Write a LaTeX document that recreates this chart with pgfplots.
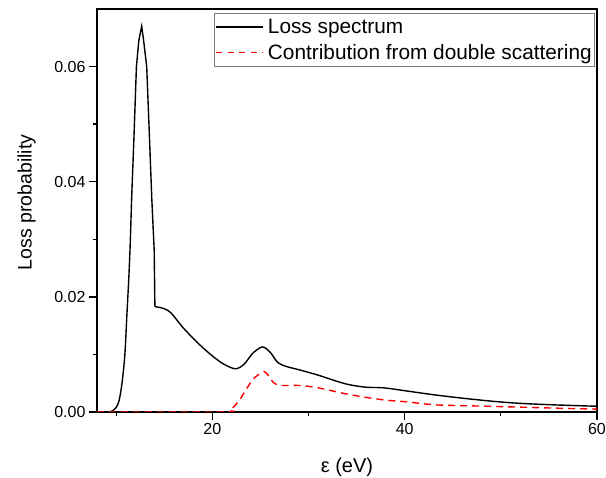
\documentclass[border=0pt]{standalone}
\usepackage{pgfplots}
\pgfplotsset{compat=1.18}
\usepackage{fontspec}
\setmainfont{Liberation Sans}
\begin{document}
\begin{tikzpicture}
\path[use as bounding box] (-97pt,-66pt) rectangle (509pt,412pt);
\begin{axis}[
  scale only axis,
  width=500pt, height=403pt,
  xmin=8, xmax=60, ymin=0, ymax=0.07,
  axis line style={line width=1.3pt},
  xtick pos=left, ytick pos=left,
  tick align=outside,
  xtick={20,40,60}, minor xtick={10,30,50},
  ytick={0,0.02,0.04,0.06}, minor ytick={0.01,0.03,0.05},
  major tick length=8pt, minor tick length=4pt,
  every tick/.style={black, line width=1.3pt},
  /pgf/number format/assume math mode=true,
  yticklabel style={/pgf/number format/fixed, /pgf/number format/precision=2, /pgf/number format/fixed zerofill, font=\fontsize{16}{19}\selectfont},
  xticklabel style={font=\fontsize{16}{19}\selectfont},
  scaled y ticks=false,
  xlabel={ε (eV)},
  ylabel={Loss probability},
  xlabel style={font=\fontsize{20}{24}\selectfont, at={(axis description cs:0.5,-0.151)}, anchor=base},
  ylabel style={font=\fontsize{19.5}{24}\selectfont, at={(axis description cs:-0.1306,0.52)}, anchor=base},
  legend style={at={(axis description cs:1,1)}, anchor=north east, xshift=-2pt, yshift=-4pt,
    draw=gray, line width=0.6pt, inner xsep=1pt, inner ysep=1.5pt,
    font=\fontsize{20.8}{24}\selectfont, column sep=2pt,
    nodes={inner xsep=2pt, inner ysep=4.5pt}},
  legend cell align=left,
  legend image code/.code={\draw[#1] (0pt,0pt) -- (47pt,0pt);},
]
\addplot[black, line width=1.4pt, forget plot] coordinates {
(11.6,0.037) (11.85,0.048) (12.1,0.060) (12.35,0.0645) (12.65,0.067) (12.85,0.0645) (13.17,0.060) (13.45,0.048) (13.7,0.037) (13.95,0.028) (14.02,0.0183)
};
\addplot[black, line width=1.4pt, smooth, tension=0.5, forget plot] coordinates {
(8,0) (9,0) (9.5,0.0001) (10,0.0008) (10.3,0.002) (10.6,0.005) (10.9,0.010) (11.1,0.0166) (11.3,0.023) (11.45,0.029) (11.6,0.037)
};
\addplot[black, line width=1.4pt, smooth, tension=0.5, forget plot] coordinates {
(14.02,0.0183) (14.9,0.018) (15.7,0.0172) (17.0,0.01455) (18.7,0.01165) (20.1,0.0096) (21.2,0.0083) (22.4,0.0075) (23.3,0.0083) (24.2,0.0102) (25.2,0.0113) (26.0,0.0104) (26.8,0.0086) (27.7,0.0079) (29.1,0.0073) (31,0.0064) (33,0.0053) (34.35,0.0047) (36,0.0043) (37.8,0.0042) (40,0.0037) (43,0.0030) (46,0.0024) (49.3,0.00184) (52,0.0015) (55.2,0.00126) (58,0.0011) (60,0.001)
};
\addplot[red, line width=1.4pt, dash pattern=on 7pt off 5pt, smooth, tension=0.5, forget plot] coordinates {
(8,0) (21.2,0) (21.8,0.0003) (22.1,0.0007) (22.8,0.002) (23.5,0.0039) (24.3,0.0058) (25.2,0.0069) (25.6,0.0068) (26.3,0.0052) (26.8,0.0047) (27.3,0.0046) (29.1,0.0046) (31,0.0042) (34.35,0.003) (37.8,0.0021) (40,0.0018) (43,0.00126) (46,0.0011) (49.3,0.00097) (55,0.0007) (60,0.0005)
};
\addlegendimage{black, line width=1.4pt}
\addlegendentry{Loss spectrum}
\addlegendimage{red, line width=1.4pt, dash pattern=on 6pt off 5.5pt}
\addlegendentry{Contribution from double scattering}
\end{axis}
\end{tikzpicture}
\end{document}
